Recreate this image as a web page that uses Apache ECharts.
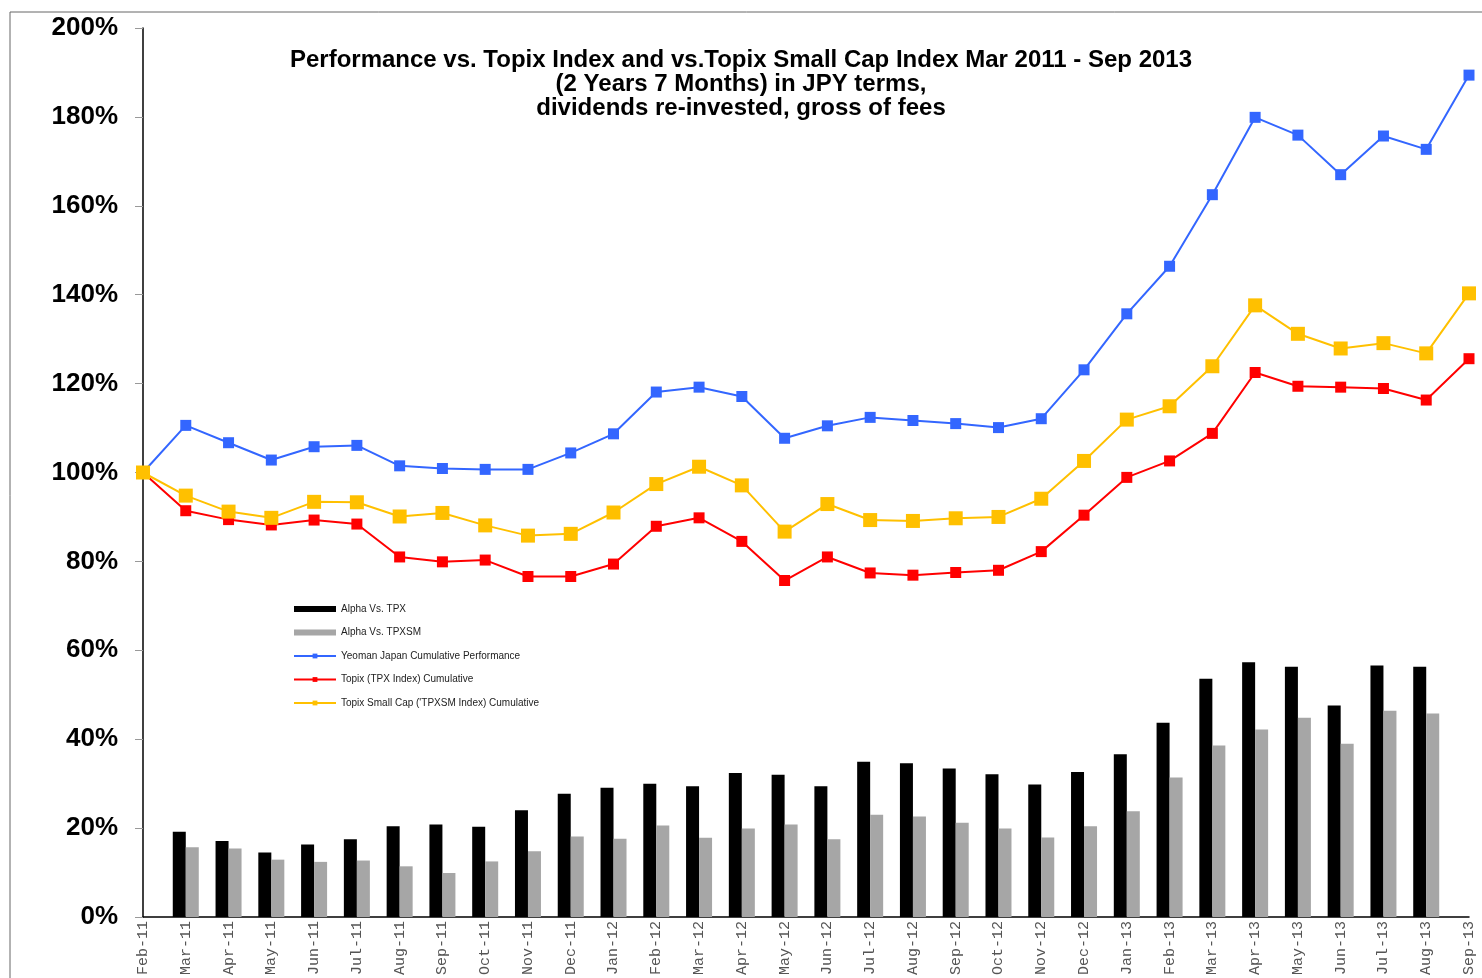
<!DOCTYPE html>
<html>
<head>
<meta charset="utf-8">
<style>
  html, body { margin: 0; padding: 0; background: #fff; }
  #chart { width: 1482px; height: 978px; }
</style>
<script src="https://cdn.jsdelivr.net/npm/echarts@6/dist/echarts.min.js"></script>
</head>
<body>
<div id="chart"></div>
<script>
const months = ['Feb-11', 'Mar-11', 'Apr-11', 'May-11', 'Jun-11', 'Jul-11', 'Aug-11', 'Sep-11', 'Oct-11', 'Nov-11', 'Dec-11',
  'Jan-12', 'Feb-12', 'Mar-12', 'Apr-12', 'May-12', 'Jun-12', 'Jul-12', 'Aug-12', 'Sep-12', 'Oct-12', 'Nov-12', 'Dec-12',
  'Jan-13', 'Feb-13', 'Mar-13', 'Apr-13', 'May-13', 'Jun-13', 'Jul-13', 'Aug-13', 'Sep-13']

// bars, % (no bar for Feb-11 and Sep-13)
const alphaTpx = [null, 19.2, 17.1, 14.5, 16.3, 17.5, 20.4, 20.8, 20.3, 24.0, 27.7,
  29.1, 30.0, 29.4, 32.4, 32.0, 29.4, 34.9, 34.6, 33.4, 32.1, 29.8, 32.6,
  36.6, 43.7, 53.6, 57.3, 56.3, 47.6, 56.6, 56.3, null]
const alphaTpxsm = [null, 15.7, 15.4, 12.9, 12.4, 12.7, 11.4, 9.9, 12.5, 14.8, 18.1,
  17.6, 20.6, 17.8, 19.9, 20.8, 17.5, 23.0, 22.6, 21.2, 19.9, 17.9, 20.4,
  23.8, 31.4, 38.6, 42.2, 44.8, 39.0, 46.4, 45.8, null]

// cumulative lines, %
const yeoman = [100, 110.6, 106.7, 102.8, 105.8, 106.1, 101.5, 100.9, 100.7, 100.7, 104.4,
  108.7, 118.1, 119.2, 117.1, 107.7, 110.5, 112.4, 111.7, 111.0, 110.1, 112.1, 123.1,
  135.7, 146.4, 162.5, 179.9, 175.9, 167.0, 175.7, 172.7, 189.4]
const topix = [100, 91.4, 89.4, 88.2, 89.3, 88.4, 81.0, 79.9, 80.3, 76.6, 76.6,
  79.4, 87.9, 89.8, 84.5, 75.7, 81.0, 77.4, 76.9, 77.5, 78.0, 82.2, 90.4,
  98.9, 102.6, 108.8, 122.5, 119.4, 119.2, 118.9, 116.3, 125.6]
const topixSmall = [100, 94.8, 91.2, 89.8, 93.4, 93.3, 90.1, 90.9, 88.1, 85.8, 86.2,
  91.0, 97.4, 101.3, 97.1, 86.7, 92.9, 89.3, 89.1, 89.7, 90.0, 94.1, 102.6,
  111.9, 114.9, 123.9, 137.6, 131.2, 127.9, 129.1, 126.8, 140.3]

const names = ['Alpha Vs. TPX', 'Alpha Vs. TPXSM', 'Yeoman Japan Cumulative Performance',
  'Topix (TPX Index) Cumulative', "Topix Small Cap ('TPXSM Index) Cumulative"]

const sans = 'Liberation Sans, Arial, Helvetica, sans-serif'

const chart = echarts.init(document.getElementById('chart'), null, { renderer: 'canvas' })

const lineSeries = (name, data, color, size) => ({
  name,
  type: 'line',
  data,
  symbol: 'rect',
  symbolSize: size,
  lineStyle: { color, width: 2 },
  itemStyle: { color },
  z: 3
})

chart.setOption({
  animation: false,
  backgroundColor: '#fff',
  title: {
    text: 'Performance vs. Topix Index and vs.Topix Small Cap Index Mar 2011 - Sep 2013\n(2 Years 7 Months) in JPY terms,\ndividends re-invested, gross of fees',
    left: 736,
    textAlign: 'center',
    top: 43,
    textStyle: { fontFamily: sans, fontSize: 24, fontWeight: 'bold', color: '#000', lineHeight: 24, align: 'center' }
  },
  legend: {
    orient: 'vertical',
    left: 288,
    top: 599,
    itemWidth: 42,
    itemHeight: 6,
    itemGap: 13.5,
    textStyle: { fontFamily: sans, fontSize: 10, color: '#222' },
    data: [
      { name: names[0], icon: 'rect' },
      { name: names[1], icon: 'rect' },
      names[2], names[3], names[4]
    ]
  },
  grid: { left: 143, right: 13, top: 28, bottom: 60 },
  xAxis: {
    type: 'category',
    data: months,
    boundaryGap: false,
    axisLine: { lineStyle: { color: '#000', width: 1.5 } },
    axisTick: { show: false },
    axisLabel: {
      interval: 0,
      rotate: 90,
      margin: 4,
      fontFamily: 'Liberation Mono, Courier New, monospace',
      fontSize: 15,
      color: '#555'
    }
  },
  yAxis: {
    type: 'value',
    min: 0,
    max: 200,
    interval: 20,
    splitLine: { show: false },
    axisLine: { show: true, lineStyle: { color: '#000', width: 1.5 } },
    axisTick: { show: true, length: 8, lineStyle: { color: '#999' } },
    axisLabel: {
      formatter: '{value}%',
      margin: 25,
      fontFamily: sans,
      fontSize: 26,
      fontWeight: 'bold',
      color: '#000'
    }
  },
  graphic: [{
    type: 'rect',
    shape: { x: 10, y: 12, width: 1600, height: 1100 },
    style: { fill: 'none', stroke: '#666', lineWidth: 1 },
    silent: true
  }],
  series: [
    {
      name: names[0],
      type: 'bar',
      data: alphaTpx,
      barWidth: 13,
      barGap: '0%',
      itemStyle: { color: '#000' }
    },
    {
      name: names[1],
      type: 'bar',
      data: alphaTpxsm,
      barWidth: 13,
      itemStyle: { color: '#a6a6a6' }
    },
    lineSeries(names[2], yeoman, '#3366ff', 11),
    lineSeries(names[3], topix, '#ff0000', 11),
    lineSeries(names[4], topixSmall, '#ffc000', 14)
  ]
})
</script>
</body>
</html>
